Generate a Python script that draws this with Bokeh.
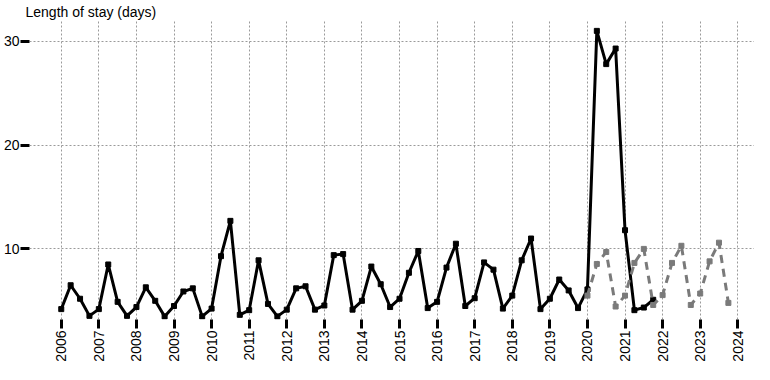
import math
from bokeh.plotting import figure
from bokeh.models import FixedTicker, Range1d
from bokeh.embed import file_html
from bokeh.resources import INLINE

# Observed quarterly length of stay (days), 2006 Q1 .. 2021 Q4
obs_start_year = 2006
obs_values = [
    4.2, 6.5, 5.2, 3.55,
    4.2, 8.5, 4.9, 3.55,
    4.4, 6.3, 5.0, 3.5,
    4.5, 5.9, 6.2, 3.5,
    4.25, 9.3, 12.7, 3.65,
    4.1, 8.9, 4.7, 3.5,
    4.15, 6.2, 6.4, 4.15,
    4.55, 9.4, 9.5, 4.15,
    5.0, 8.3, 6.6, 4.4,
    5.2, 7.7, 9.8, 4.3,
    4.9, 8.2, 10.5, 4.5,
    5.25, 8.7, 8.0, 4.25,
    5.5, 8.9, 11.0, 4.2,
    5.2, 7.05, 6.0, 4.3,
    6.1, 31.0, 27.8, 29.3,
    11.8, 4.1, 4.35, 5.1,
]

# Expected (dashed grey) quarterly values, 2020 Q1 .. 2023 Q4
exp_start_year = 2020
exp_values = [
    5.5, 8.55, 9.7, 4.45,
    5.5, 8.65, 10.0, 4.6,
    5.55, 8.65, 10.3, 4.6,
    5.7, 8.8, 10.6, 4.8,
]

year_ticks = list(range(2006, 2025))
y_ticks = [10, 20, 30]
title_text = "Length of stay (days)"

obs_x = [obs_start_year + i / 4 for i in range(len(obs_values))]
exp_x = [exp_start_year + i / 4 for i in range(len(exp_values))]

FONT = "Liberation Sans"

p = figure(width=754, height=364, output_backend="svg", toolbar_location=None,
           x_range=Range1d(2005.155, 2024.445), y_range=Range1d(3.2, 32.0),
           min_border_left=0, min_border_right=0, min_border_top=0, min_border_bottom=0)
p.outline_line_color = None
p.background_fill_color = "white"
p.border_fill_color = "white"

p.title.text = title_text
p.title.text_font = FONT
p.title.text_font_size = "14px"
p.title.text_font_style = "normal"
p.title.text_color = "black"
p.title.align = "left"
p.title.offset = -4
p.title.standoff = 2

for ax in (p.xaxis[0], p.yaxis[0]):
    ax.axis_line_color = None
    ax.major_tick_line_width = 3
    ax.major_tick_line_color = "black"
    ax.major_tick_out = 9
    ax.major_tick_in = 0
    ax.minor_tick_line_color = None
    ax.major_label_text_font = FONT
    ax.major_label_text_font_size = "14px"
    ax.major_label_text_color = "black"
    ax.major_label_standoff = 2
    ax.axis_label_standoff = 0

p.xaxis[0].ticker = FixedTicker(ticks=year_ticks)
p.xaxis[0].major_label_orientation = math.pi / 2
p.yaxis[0].ticker = FixedTicker(ticks=y_ticks)
p.yaxis[0].major_label_standoff = 1

p.xgrid[0].ticker = FixedTicker(ticks=year_ticks)
p.ygrid[0].ticker = FixedTicker(ticks=y_ticks)
for g in (p.xgrid[0], p.ygrid[0]):
    g.grid_line_color = "#9a9a9a"
    g.grid_line_dash = "2 2"
    g.grid_line_width = 1

p.line(obs_x, obs_values, line_color="black", line_width=3, line_join="round")
p.scatter(obs_x, obs_values, marker="square", size=5, color="black")

p.line(exp_x, exp_values, line_color="#7a7a7a", line_width=3, line_dash="8 6")
p.scatter(exp_x, exp_values, marker="square", size=5, color="#7a7a7a")

open("out.html", "w").write(file_html(p, INLINE))
